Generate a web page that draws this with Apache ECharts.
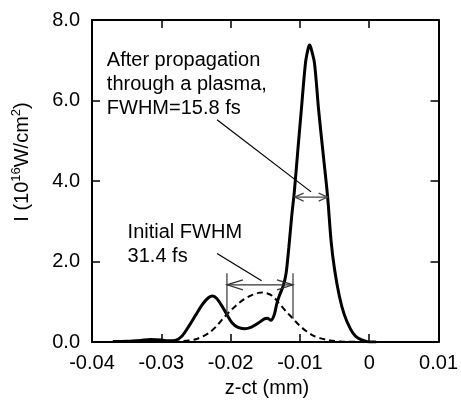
<!DOCTYPE html>
<html><head><meta charset="utf-8">
<script src="https://cdn.jsdelivr.net/npm/echarts@6/dist/echarts.min.js"></script>
<style>html,body{margin:0;padding:0;background:#fff}#c{width:461px;height:402px}</style>
</head><body><div id="c"></div>
<script>
// ---- data ----
const xTicks = [-0.04, -0.03, -0.02, -0.01, 0, 0.01];
const yTicks = [0, 2, 4, 6, 8];
// After propagation (solid)
const solidZ = [-0.0370,-0.0350,-0.0330,-0.0315,-0.0300,-0.0290,-0.0280,-0.0270,-0.0260,-0.0250,-0.0240,-0.0232,-0.0226,-0.0220,-0.0212,-0.0205,-0.0198,-0.0190,-0.0180,-0.0170,-0.0160,-0.0152,-0.0147,-0.0142,-0.0137,-0.0133,-0.0129,-0.0124,-0.0120,-0.0116,-0.0112,-0.0108,-0.0103,-0.0098,-0.0092,-0.0088,-0.0086,-0.0084,-0.0079,-0.0073,-0.0066,-0.0060,-0.0055,-0.0050,-0.0043,-0.0036,-0.0027,-0.0020,-0.0012,-0.0005,0.0000,0.0010];
const solidI = [0.01,0.02,0.04,0.06,0.05,0.03,0.04,0.15,0.40,0.68,0.95,1.10,1.14,1.08,0.88,0.67,0.48,0.37,0.33,0.37,0.47,0.57,0.59,0.54,0.68,0.98,1.18,1.40,1.70,2.35,3.10,3.75,4.77,5.76,6.93,7.30,7.38,7.30,6.93,5.76,4.60,3.60,2.50,1.80,1.13,0.68,0.32,0.15,0.06,0.02,0.00,0.00];
// Initial pulse (dashed)
const dashedZ = [-0.0340,-0.0300,-0.0280,-0.0270,-0.0260,-0.0250,-0.0240,-0.0230,-0.0220,-0.0210,-0.0200,-0.0190,-0.0180,-0.0170,-0.0160,-0.0155,-0.0150,-0.0140,-0.0130,-0.0120,-0.0110,-0.0100,-0.0090,-0.0080,-0.0070,-0.0060,-0.0050,-0.0040,-0.0020,0.0000];
const dashedI = [0.00,0.005,0.01,0.02,0.04,0.07,0.14,0.24,0.40,0.60,0.78,0.94,1.07,1.16,1.22,1.23,1.22,1.15,0.96,0.76,0.58,0.40,0.26,0.15,0.09,0.05,0.025,0.01,0.003,0.00];
const xLabel = 'z-ct (mm)';
const yLabelParts = ['I (10', '16', 'W/cm', '2', ')'];
const note1 = ['After propagation', 'through a plasma,', 'FWHM=15.8 fs'];
const note2 = ['Initial FWHM', '31.4 fs'];

const FONT = 'Liberation Sans, Arial, Helvetica, sans-serif';
const chart = echarts.init(document.getElementById('c'), null, {renderer: 'canvas'});

function fmtX(v) { return Math.abs(v) < 1e-9 ? '0' : v.toFixed(2); }
function fmtY(v) { return v.toFixed(1); }

function axisCommon() {
  return {
    axisLine: {show: true, onZero: false, lineStyle: {color: '#000', width: 2}},
    axisTick: {show: true, inside: true, length: 8, lineStyle: {color: '#000', width: 1.5}},
    splitLine: {show: false}
  };
}

chart.setOption({
  animation: false,
  backgroundColor: '#fff',
  grid: {left: 92, right: 19, top: 20, bottom: 60, containLabel: false},
  xAxis: [
    Object.assign({type: 'value', min: xTicks[0], max: xTicks[xTicks.length-1], interval: 0.01, position: 'bottom',
      axisLabel: {formatter: fmtX, color: '#000', fontSize: 20, fontFamily: FONT, margin: 11}}, axisCommon()),
    Object.assign({type: 'value', min: xTicks[0], max: xTicks[xTicks.length-1], interval: 0.01, position: 'top',
      axisLabel: {show: false}}, axisCommon())
  ],
  yAxis: [
    Object.assign({type: 'value', min: yTicks[0], max: yTicks[yTicks.length-1], interval: 2, position: 'left',
      axisLabel: {formatter: fmtY, color: '#000', fontSize: 20, fontFamily: FONT, margin: 12}}, axisCommon()),
    Object.assign({type: 'value', min: yTicks[0], max: yTicks[yTicks.length-1], interval: 2, position: 'right',
      axisLabel: {show: false}}, axisCommon())
  ],
  series: [
    {type: 'line', name: 'initial', data: dashedZ.map((z, i) => [z, dashedI[i]]), showSymbol: false, smooth: 0.3,
      lineStyle: {color: '#000', width: 2, type: [6, 4]}, z: 2},
    {type: 'line', name: 'after', data: solidZ.map((z, i) => [z, solidI[i]]), showSymbol: false, smooth: 0.3,
      lineStyle: {color: '#000', width: 3}, z: 3}
  ]
});

// ---- annotations in data coordinates ----
const P = (x, y) => chart.convertToPixel({xAxisIndex: 0, yAxisIndex: 0}, [x, y]);
const g = [];
function line(a, b, color, w) {
  g.push({type: 'polyline', shape: {points: [a, b]}, style: {stroke: color, lineWidth: w, fill: null}, z: 10});
}
function dblArrow(z1, z2, I, len, half, color) {
  const a = P(z1, I), b = P(z2, I);
  line(a, b, color, 1.2);
  g.push({type: 'polyline', shape: {points: [[a[0]+len, a[1]-half], a, [a[0]+len, a[1]+half]]}, style: {stroke: color, lineWidth: 1.2, fill: null}, z: 10});
  g.push({type: 'polyline', shape: {points: [[b[0]-len, b[1]-half], b, [b[0]-len, b[1]+half]]}, style: {stroke: color, lineWidth: 1.2, fill: null}, z: 10});
}
// main FWHM arrow
dblArrow(-0.01076, -0.0060, 3.6, 9, 4, '#444');
line(P(-0.02196, 5.52), P(-0.00839, 3.73), '#000', 1.2);
// initial FWHM arrow with bars
dblArrow(-0.02053, -0.0110, 1.42, 16, 5, '#333');
line(P(-0.02053, 1.71), P(-0.02053, 0.66), '#333', 1.2);
line(P(-0.0110, 1.71), P(-0.0110, 0.58), '#333', 1.2);
line(P(-0.02196, 2.20), P(-0.01553, 1.52), '#000', 1.2);

function textBlock(lines, z, I) {
  const p = P(z, I);
  g.push({type: 'text', x: p[0], y: p[1], z: 11,
    style: {text: lines.join('\n'), fill: '#000', fontSize: 20, fontFamily: FONT, lineHeight: 24, align: 'left', verticalAlign: 'top'}});
}
textBlock(note1, -0.03786, 7.30);
textBlock(note2, -0.03486, 3.01);

// axis names
g.push({type: 'text', x: 267, y: 388, z: 11,
  style: {text: xLabel, fill: '#000', fontSize: 20, fontFamily: FONT, align: 'center', verticalAlign: 'middle'}});
g.push({type: 'text', x: 22, y: 162, rotation: Math.PI / 2, z: 11,
  style: {text: '{n|' + yLabelParts[0] + '}{s|' + yLabelParts[1] + '}{n|' + yLabelParts[2] + '}{s|' + yLabelParts[3] + '}{n|' + yLabelParts[4] + '}',
    align: 'center', verticalAlign: 'middle', fill: '#000', fontFamily: FONT,
    rich: {n: {fontSize: 20, fontFamily: FONT, fill: '#000', lineHeight: 24},
           s: {fontSize: 13, fontFamily: FONT, fill: '#000', lineHeight: 24, padding: [0, 0, 12, 0]}}}});

chart.setOption({graphic: g});
</script></body></html>
